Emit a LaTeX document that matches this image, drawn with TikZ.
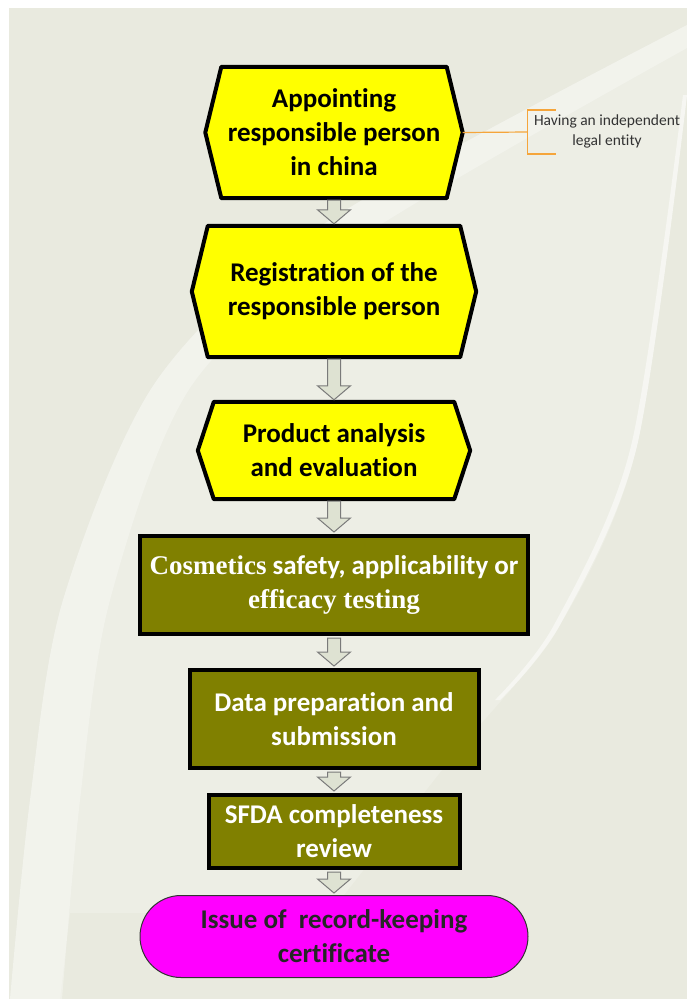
\documentclass[tikz,border=0pt]{standalone}
\usepackage{fontspec}
\setmainfont{Carlito}[Ligatures=NoCommon]
\newfontfamily\serifbold{Liberation Serif}
\usetikzlibrary{arrows.meta,positioning,calc}
\definecolor{pagebg}{HTML}{E9EADF}
\definecolor{boxyellow}{HTML}{FFFF00}
\definecolor{boxolive}{HTML}{808000}
\definecolor{boxmagenta}{HTML}{FF00FF}
\definecolor{arrowfill}{HTML}{DEE2D2}
\definecolor{arrowline}{HTML}{7A7A7A}
\definecolor{notecolor}{HTML}{F5A53B}
\pgfdeclarelayer{bg}
\pgfsetlayers{bg,main}
\def\hexdent{16pt}
\def\shaftw{6.5pt}
\def\headw{16.5pt}
\def\headlen{14pt}
% block arrow from the bottom of one box to the top of the next
\def\flowarrow#1#2{%
    \draw[flowarr] ([xshift=-\shaftw,yshift=-2pt]#1.south)
        -- ([xshift=-\shaftw,yshift=\headlen+2pt]#2.north)
        -- ([xshift=-\headw,yshift=\headlen+2pt]#2.north)
        -- ([yshift=2pt]#2.north)
        -- ([xshift=\headw,yshift=\headlen+2pt]#2.north)
        -- ([xshift=\shaftw,yshift=\headlen+2pt]#2.north)
        -- ([xshift=\shaftw,yshift=-2pt]#1.south) -- cycle;}

\begin{document}
\begin{tikzpicture}[x=1pt,y=-1pt,
    flowfont/.style={font=\fontsize{27}{34}\selectfont\bfseries},
    flowarr/.style={fill=arrowfill,draw=arrowline,line width=1pt,line join=miter},
    hexline/.style={fill=boxyellow,draw=black,line width=4pt,line join=round},
    noteline/.style={draw=notecolor,line width=1.2pt}]
    \tikzstyle{hexbox}=[rectangle,inner sep=0pt,align=center,flowfont]
    \tikzstyle{olivebox}=[rectangle,draw=black,line width=4pt,fill=boxolive,text=white,inner sep=0pt,align=center,flowfont]
    \tikzstyle{endbox}=[rectangle,rounded corners=41pt,draw=black!80,line width=1pt,fill=boxmagenta,text=black!85,inner sep=0pt,align=center,flowfont]
    \tikzstyle{notetext}=[inner sep=0pt,align=center,text=black!80,font=\fontsize{15.5}{20}\selectfont]

    \useasboundingbox (0,0) rectangle (687,999);

    % Draw the page and the swoosh behind it
    \begin{pgfonlayer}{bg}
        \fill[white] (0,0) rectangle (687,999);
        \fill[pagebg] (9,8) rectangle (687,999);
        \fill[white,opacity=.2] plot[smooth] coordinates {(10,999) (30,800) (63,600) (157,380) (330,220) (687,25)}
            -- plot[smooth] coordinates {(687,95) (637,446) (560,625) (450,760) (330,913)}
            -- (70,913) -- (60,999) -- cycle;
        \fill[white,opacity=.3] plot[smooth] coordinates {(10,999) (30,800) (63,600) (157,380) (330,220) (687,25)}
            -- plot[smooth] coordinates {(687,48) (360,238) (192,385) (110,600) (80,800) (62,999)} -- cycle;
        \fill[white,opacity=.5] plot[smooth] coordinates {(687,95) (637,446) (560,625) (500,700)}
            -- plot[smooth] coordinates {(495,700) (554,625) (631,446) (683,95)} -- cycle;
    \end{pgfonlayer}

    % Draw the yellow steps
    \node[hexbox, minimum width=225, minimum height=131] (appoint) at (334,132.5) {Appointing\\responsible person\\in china};
    \node[hexbox, minimum width=252, minimum height=131] (register) at (334,291.5) {Registration of the\\responsible person};
    \node[hexbox, minimum width=240, minimum height=97] (analysis) at (334,450.5) {Product analysis\\and evaluation};
    \begin{pgfonlayer}{bg}
        \foreach \name in {appoint,register,analysis}
            \draw[hexline] (\name.north west) -- (\name.north east) -- ([xshift=\hexdent]\name.east)
                -- (\name.south east) -- (\name.south west) -- ([xshift=-\hexdent]\name.west) -- cycle;
    \end{pgfonlayer}

    % Draw the olive steps
    \node[olivebox, minimum width=388, minimum height=98] (testing) at (334,585)
        {{\serifbold Cosmetics} safety, applicability or\\{\serifbold efficacy testing}};
    \node[olivebox, minimum width=289, minimum height=98] (dossier) at (334,719) {Data preparation and\\submission};
    \node[olivebox, minimum width=251, minimum height=73] (review) at (334,831.5) {SFDA completeness\\review};

    % Draw the final step
    \node[endbox, minimum width=388, minimum height=82] (certificate) at (334,936.5) {Issue of~ record-keeping\\certificate};

    % Connect every step with the next one
    \foreach \source/\dest in {appoint/register,register/analysis,analysis/testing,testing/dossier,dossier/review,review/certificate}
        {\flowarrow{\source}{\dest}}

    % Annotate the first step
    \node[notetext] (note) at (607,131) {Having an independent\\legal entity};
    \coordinate (brace) at ($(note.west)+(-6,1)$);
    \draw[noteline] ([xshift=\hexdent]appoint.east) -- (brace);
    \draw[noteline] ([xshift=28pt,yshift=22pt]brace) -- ([yshift=22pt]brace)
        -- ([yshift=-22pt]brace) -- ([xshift=28pt,yshift=-22pt]brace);
\end{tikzpicture}
\end{document}
